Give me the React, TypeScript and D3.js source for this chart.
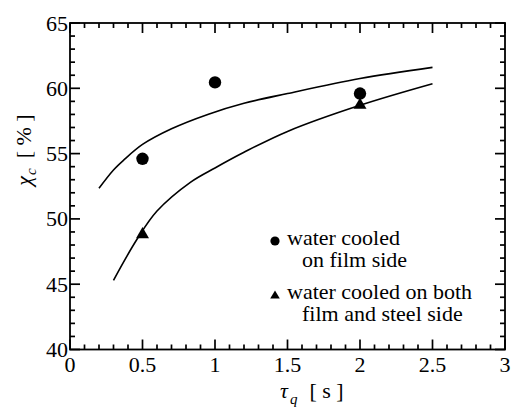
import React from "react";
import * as d3 from "d3";

const xTicks = [0, 0.5, 1, 1.5, 2, 2.5, 3];
const xTickLabels = ["0", "0.5", "1", "1.5", "2", "2.5", "3"];
const yTicks = [40, 45, 50, 55, 60, 65];
const yTickLabels = ["40", "45", "50", "55", "60", "65"];

const filmX = [0.5, 1, 2];
const filmY = [54.6, 60.45, 59.6];
const bothX = [0.5, 2];
const bothY = [48.9, 58.8];

const upperX = [0.2, 0.3, 0.37, 0.5, 0.7, 0.95, 1.2, 1.5, 2.0, 2.5];
const upperY = [52.35, 53.75, 54.5, 55.7, 56.9, 58.0, 58.85, 59.6, 60.75, 61.6];
const lowerX = [0.3, 0.46, 0.6, 0.83, 1.0, 1.2, 1.5, 2.0, 2.5];
const lowerY = [45.3, 48.4, 50.6, 52.8, 53.9, 55.1, 56.7, 58.7, 60.35];

const legendLabels = [
  ["water cooled", "on film side"],
  ["water cooled on both", "film and steel side"],
];

const W = 515, H = 408;
const L = 70, R = 505, T = 23, B = 349.5;
const FONT = "Liberation Serif";
const FS = 22;

export default function App() {
  const x = d3.scaleLinear().domain([0, 3]).range([L, R]);
  const y = d3.scaleLinear().domain([40, 65]).range([B, T]);

  const line = d3
    .line<[number, number]>()
    .x((d) => x(d[0]))
    .y((d) => y(d[1]))
    .curve(d3.curveCatmullRom.alpha(0.5));

  const upper = line(upperX.map((v, i) => [v, upperY[i]] as [number, number]));
  const lower = line(lowerX.map((v, i) => [v, lowerY[i]] as [number, number]));

  const xMinor = d3.range(0, 31).map((i) => i / 10);
  const yMinor = d3.range(40, 66);

  const tri = (cx: number, cy: number, s: number) =>
    `M${cx},${cy - s * 0.95}L${cx + s},${cy + s * 0.75}L${cx - s},${cy + s * 0.75}Z`;

  const lx = 275, ly = 241;

  return (
    <svg width={W} height={H} style={{ position: "absolute", left: 0, top: 0 }}>
      <rect x={0} y={0} width={W} height={H} fill="#fff" />
      {xMinor.map((v, i) => {
        const len = i % 5 === 0 ? 10 : 5;
        return (
          <g key={"xt" + i}>
            <line x1={x(v)} x2={x(v)} y1={B} y2={B - len} stroke="#000" strokeWidth={1.7} />
            <line x1={x(v)} x2={x(v)} y1={T} y2={T + len} stroke="#000" strokeWidth={1.7} />
          </g>
        );
      })}
      {yMinor.map((v, i) => {
        const len = v % 5 === 0 ? 10 : 5;
        return (
          <g key={"yt" + i}>
            <line x1={L} x2={L + len} y1={y(v)} y2={y(v)} stroke="#000" strokeWidth={1.7} />
            <line x1={R} x2={R - len} y1={y(v)} y2={y(v)} stroke="#000" strokeWidth={1.7} />
          </g>
        );
      })}
      <rect x={L} y={T} width={R - L} height={B - T} fill="none" stroke="#000" strokeWidth={1.8} />
      {xTicks.map((v, i) => (
        <text key={"xl" + i} x={x(v)} y={B + 22} textAnchor="middle" fontFamily={FONT} fontSize={FS}>
          {xTickLabels[i]}
        </text>
      ))}
      {yTicks.map((v, i) => (
        <text key={"yl" + i} x={L - 2} y={y(v) + 7.5} textAnchor="end" fontFamily={FONT} fontSize={FS}>
          {yTickLabels[i]}
        </text>
      ))}
      <text x={280} y={398} fontFamily={FONT} fontSize={FS}>
        <tspan fontStyle="italic">τ</tspan>
        <tspan fontStyle="italic" fontSize={15} dy={6} dx={2}>q</tspan>
        <tspan dy={-6} dx={12}>[ s ]</tspan>
      </text>
      <text transform="translate(31,150) rotate(-90)" fontFamily={FONT} fontSize={FS} textAnchor="middle">
        <tspan fontStyle="italic">χ</tspan>
        <tspan fontStyle="italic" fontSize={15} dy={5} dx={1}>c</tspan>
        <tspan dy={-5} dx={10}>[ % ]</tspan>
      </text>
      <path d={upper || ""} fill="none" stroke="#000" strokeWidth={1.6} />
      <path d={lower || ""} fill="none" stroke="#000" strokeWidth={1.6} />
      {filmX.map((v, i) => (
        <circle key={"f" + i} cx={x(v)} cy={y(filmY[i])} r={6.2} fill="#000" />
      ))}
      {bothX.map((v, i) => (
        <path key={"b" + i} d={tri(x(v), y(bothY[i]), 6.5)} fill="#000" />
      ))}
      <circle cx={lx} cy={ly} r={4.6} fill="#000" />
      <path d={tri(lx, ly + 54, 4.8)} fill="#000" />
      <text x={lx + 12} y={ly + 4} fontFamily={FONT} fontSize={FS}>{legendLabels[0][0]}</text>
      <text x={lx + 27} y={ly + 26} fontFamily={FONT} fontSize={FS}>{legendLabels[0][1]}</text>
      <text x={lx + 12} y={ly + 58} fontFamily={FONT} fontSize={FS}>{legendLabels[1][0]}</text>
      <text x={lx + 27} y={ly + 80} fontFamily={FONT} fontSize={FS}>{legendLabels[1][1]}</text>
    </svg>
  );
}
